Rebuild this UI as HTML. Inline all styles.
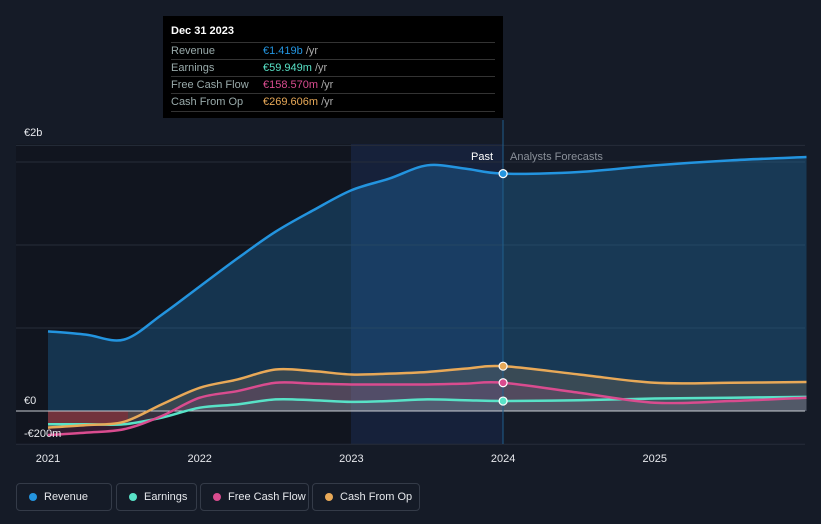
<!DOCTYPE html>
<html><head><meta charset="utf-8"><style>
body{margin:0;background:#151b27;font-family:"Liberation Sans",sans-serif;}
svg{display:block}
.leg{position:absolute;top:483px;height:28px;border:1px solid #343b48;border-radius:4px;color:#e6e8ec;font-size:11px;line-height:26px;box-sizing:border-box;padding-left:27px}
.leg i{position:absolute;left:12px;top:9px;width:8px;height:8px;border-radius:50%}
</style></head><body>
<div style="position:relative;width:821px;height:524px;overflow:hidden">
<svg id="chart" width="821" height="524"></svg>
<div class="leg" style="left:16px;width:96px"><i style="background:#2394df"></i>Revenue</div>
<div class="leg" style="left:116px;width:81px"><i style="background:#58e2c7"></i>Earnings</div>
<div class="leg" style="left:200px;width:109px"><i style="background:#d94c8f"></i>Free Cash Flow</div>
<div class="leg" style="left:312px;width:108px"><i style="background:#e8a958"></i>Cash From Op</div>
<div style="position:absolute;left:163px;top:16px;width:340px;height:102px;background:#000;color:#fff;font-size:11px">
<div style="position:absolute;left:8px;top:9px;font-weight:bold">Dec 31 2023</div>
<div style="position:absolute;left:8px;top:26px;width:324px;border-top:1px solid #333;height:17px;line-height:17px"><span style="color:#9aa">Revenue</span><span style="position:absolute;left:92px;color:#2394df">€1.419b <span style="color:#aaa">/yr</span></span></div>
<div style="position:absolute;left:8px;top:43px;width:324px;border-top:1px solid #333;height:17px;line-height:17px"><span style="color:#9aa">Earnings</span><span style="position:absolute;left:92px;color:#58e2c7">€59.949m <span style="color:#aaa">/yr</span></span></div>
<div style="position:absolute;left:8px;top:60px;width:324px;border-top:1px solid #333;height:17px;line-height:17px"><span style="color:#9aa">Free Cash Flow</span><span style="position:absolute;left:92px;color:#d94c8f">€158.570m <span style="color:#aaa">/yr</span></span></div>
<div style="position:absolute;left:8px;top:77px;width:324px;border-top:1px solid #333;border-bottom:1px solid #333;height:17px;line-height:17px"><span style="color:#9aa">Cash From Op</span><span style="position:absolute;left:92px;color:#e8a958">€269.606m <span style="color:#aaa">/yr</span></span></div>
</div>
</div>
<script>
const years=[2021,2021.25,2021.5,2021.75,2022,2022.25,2022.5,2022.75,2023,2023.25,2023.5,2023.75,2024,2024.5,2025,2025.5,2026];
const revenue=[0.48,0.46,0.43,0.58,0.75,0.92,1.08,1.21,1.33,1.40,1.48,1.46,1.43,1.44,1.48,1.51,1.53];
const earnings=[-0.08,-0.08,-0.08,-0.04,0.02,0.04,0.07,0.065,0.055,0.06,0.07,0.065,0.06,0.065,0.075,0.08,0.085];
const fcf=[-0.145,-0.13,-0.11,-0.03,0.08,0.12,0.17,0.165,0.16,0.16,0.16,0.165,0.17,0.11,0.05,0.06,0.08];
const cfo=[-0.10,-0.085,-0.065,0.04,0.14,0.19,0.25,0.24,0.22,0.225,0.235,0.255,0.27,0.22,0.17,0.17,0.175];
const yTicks=[[2,"€2b"],[0,"€0"],[-0.2,"-€200m"]];
const xTicks=[2021,2022,2023,2024,2025];
const X=y=>48+(y-2021)*151.7, Y=v=>411-v*166;
const svg=document.getElementById('chart'),NS='http://www.w3.org/2000/svg';
function mk(t,a,txt){const e=document.createElementNS(NS,t);for(const k in a)e.setAttribute(k,a[k]);if(txt)e.textContent=txt;svg.appendChild(e);return e;}
function path(vals,from,to){let p=[];for(let i=from;i<=to;i++)p.push([X(years[i]),Y(vals[i])]);
 let d='M'+p[0][0]+','+p[0][1];for(let i=0;i<p.length-1;i++){const a=p[Math.max(0,i-1)],b=p[i],c=p[i+1],e=p[Math.min(p.length-1,i+2)];
 d+=` C${b[0]+(c[0]-a[0])/6},${b[1]+(c[1]-a[1])/6} ${c[0]-(e[0]-b[0])/6},${c[1]-(e[1]-b[1])/6} ${c[0]},${c[1]}`;}return d;}
let r=mk('rect',{x:16,y:144,width:335,height:300,fill:'#11151f'});
r=mk('rect',{x:351,y:144,width:152,height:300,fill:'#16213a'});
[1.6,1.5,1,0.5,-0.2].forEach(v=>{const l=mk('line',{x1:16,x2:805,y1:Y(v),y2:Y(v),stroke:'#262d3a'});});
const fills=[[revenue,'#2394df',0.25],[cfo,'#e8a958',0.16],[fcf,'#d94c8f',0.16],[earnings,'#58e2c7',0.1]];
const names=['revenue','cash-from-op','free-cash-flow','earnings'];
fills.forEach(([v,c,o],k)=>{const a=mk('path',{d:path(v,0,16)+` L${X(2026)},${Y(0)} L${X(2021)},${Y(0)} Z`,fill:c,'fill-opacity':o});
});
r=mk('rect',{x:48,y:411,width:80,height:12,fill:'#8a2a35','fill-opacity':0.6});
let z=mk('line',{x1:16,x2:805,y1:Y(0),y2:Y(0),stroke:'#c8ccd2','stroke-width':1});
z=mk('line',{x1:503,x2:503,y1:120,y2:444,stroke:'#1f5e8c'});
[[earnings,'#58e2c7'],[fcf,'#d94c8f'],[cfo,'#e8a958'],[revenue,'#2394df']].forEach(([v,c],k)=>{
 const l=mk('path',{d:path(v,0,16),fill:'none',stroke:c,'stroke-width':2.5});
 
 const d=mk('circle',{cx:X(2024),cy:Y(v[12]),r:4,fill:c,stroke:'#fff','stroke-width':1.2});
 });
yTicks.forEach(([v,t])=>{const e=mk('text',{x:24,y:v==2?136:Y(v)-7,fill:'#e6e8ec','font-size':11},t);});
xTicks.forEach(t=>{const e=mk('text',{x:X(t),y:462,fill:'#e6e8ec','font-size':11,'text-anchor':'middle'},String(t));});
let t=mk('text',{x:493,y:160,fill:'#fff','font-size':11,'text-anchor':'end'},'Past');
t=mk('text',{x:510,y:160,fill:'#8a9099','font-size':11},'Analysts Forecasts');
</script>
</body></html>
